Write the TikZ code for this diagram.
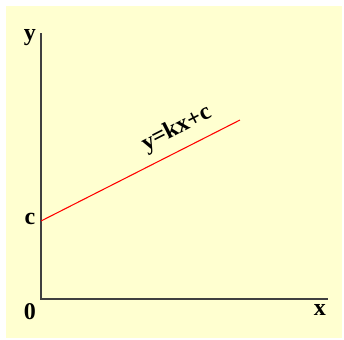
\documentclass[tikz,border=0pt]{standalone}
\usepackage{fontspec}
\setmainfont{Liberation Serif}
\usetikzlibrary{calc}

\definecolor{paper}{HTML}{FFFFD0}
\definecolor{axisgray}{HTML}{404040}

\begin{document}
\begin{tikzpicture}[
    x=0.75pt, y=-0.75pt,
    axis/.style={line width=1.5pt, axisgray},
    graph/.style={line width=0.8pt, red},
    lbl/.style={font=\fontsize{18}{20}\selectfont\bfseries, inner sep=0pt},
]

% =============================================================================
% Background
% =============================================================================
\useasboundingbox (0,0) rectangle (344,340);
\fill[paper] (6,6) rectangle (342,338);

% Axes
\coordinate (O) at (41,299);
\coordinate (Ytop) at (41,33);
\coordinate (Xend) at (328,299);
\draw[axis] (Ytop) -- (O) -- (Xend);

% Straight line
\coordinate (C) at (41,221);
\coordinate (E) at (240,120);
\draw[graph] (C) -- (E);

% Labels
\node[lbl] (ylabel) at (30,38) {y};
\node[lbl] (xlabel) at (320,310) {x};
\node[lbl] (clabel) at (30,219) {c};
\node[lbl] (olabel) at (30,312) {0};
\node[lbl, rotate=27] (eqn) at (177,129) {y=kx+c};

\end{tikzpicture}
\end{document}
